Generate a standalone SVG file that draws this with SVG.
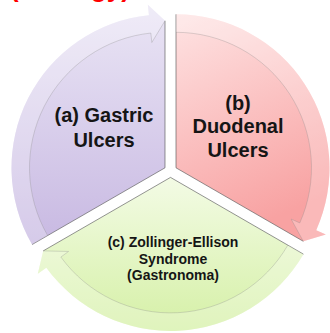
<svg xmlns="http://www.w3.org/2000/svg" width="330" height="333" viewBox="0 0 330 333">
<defs>
<linearGradient id="gP" x1="0" y1="0" x2="0" y2="1">
<stop offset="0" stop-color="#eae5f5"/><stop offset="1" stop-color="#c8b9e2"/>
</linearGradient>
<linearGradient id="gK" x1="0" y1="0" x2="0.3" y2="1">
<stop offset="0" stop-color="#fee3e3"/><stop offset="1" stop-color="#f8a2a2"/>
</linearGradient>
<linearGradient id="gG" x1="0" y1="0" x2="0" y2="1">
<stop offset="0" stop-color="#f3fbe5"/><stop offset="1" stop-color="#d5f0a6"/>
</linearGradient>
<style>
.edge{fill:none;stroke:#555;stroke-width:0.9;stroke-opacity:0.7}
.band{fill:#ffffff;fill-opacity:0.25;stroke:none}
.inner{fill:none;stroke:#8a8a8a;stroke-opacity:0.35;stroke-width:0.9}
.big{font-family:"Liberation Sans",Arial,sans-serif;font-weight:bold;font-size:20px;fill:#151515;text-anchor:middle}
.small{font-family:"Liberation Sans",Arial,sans-serif;font-weight:bold;font-size:14px;fill:#151515;text-anchor:middle}
.title{font-family:"Liberation Sans",Arial,sans-serif;font-weight:bold;font-size:26px;fill:#ff0000}
</style>
</defs>
<rect width="330" height="333" fill="#ffffff"/>
<text class="title" x="10" y="-3.5">(Etiology)</text>
<g id="node-a">
<path d="M165,167.8 L32.07,244.55 A153.5,153.5 0 0 1 148.95,15.14 L147.86,4.7 L165,20.8 Z" fill="url(#gP)"/>
<path class="edge" d="M32.07,244.55 L165,167.8 L165,20.8"/>
<text class="big" x="104" y="122">(a) Gastric</text>
<text class="big" x="104" y="147">Ulcers</text>
</g>
<g id="node-b">
<path d="M176,167.8 L176,14.3 A153.5,153.5 0 0 1 316.23,230.23 L325.82,234.51 L303.31,241.3 Z" fill="url(#gK)"/>
<path class="edge" d="M176,14.3 L176,167.8 L303.31,241.3"/>
<text class="big" x="238" y="110">(b)</text>
<text class="big" x="238" y="133">Duodenal</text>
<text class="big" x="238" y="157">Ulcers</text>
</g>
<g id="node-c">
<path d="M170.5,177.4 L303.43,254.15 A153.5,153.5 0 0 1 46.32,267.63 L37.82,273.8 L43.19,250.9 Z" fill="url(#gG)"/>
<path class="edge" d="M303.43,254.15 L170.5,177.4 L43.19,250.9"/>
<text class="small" x="173" y="247">(c) Zollinger-Ellison</text>
<text class="small" x="173" y="264">Syndrome</text>
<text class="small" x="173" y="280">(Gastronoma)</text>
</g>
<g id="connectors">
<path class="band" d="M32.07,244.55 A153.5,153.5 0 0 1 148.95,15.14 L147.86,4.7 L165,20.8 L151.83,42.49 L150.84,33.04 A135.5,135.5 0 0 0 47.66,235.55 Z"/>
<path class="inner" d="M47.66,235.55 A135.5,135.5 0 0 1 150.84,33.04 L151.83,42.49 L165,20.8"/>
<path class="band" d="M176,14.3 A153.5,153.5 0 0 1 316.23,230.23 L325.82,234.51 L303.31,241.3 L291.11,219.05 L299.79,222.91 A135.5,135.5 0 0 0 176,32.3 Z"/>
<path class="inner" d="M176,32.3 A135.5,135.5 0 0 1 299.79,222.91 L291.11,219.05 L303.31,241.3"/>
<path class="band" d="M303.43,254.15 A153.5,153.5 0 0 1 46.32,267.63 L37.82,273.8 L43.19,250.9 L68.56,251.46 L60.88,257.04 A135.5,135.5 0 0 0 287.84,245.15 Z"/>
<path class="inner" d="M287.84,245.15 A135.5,135.5 0 0 1 60.88,257.04 L68.56,251.46 L43.19,250.9"/>
</g>
</svg>
